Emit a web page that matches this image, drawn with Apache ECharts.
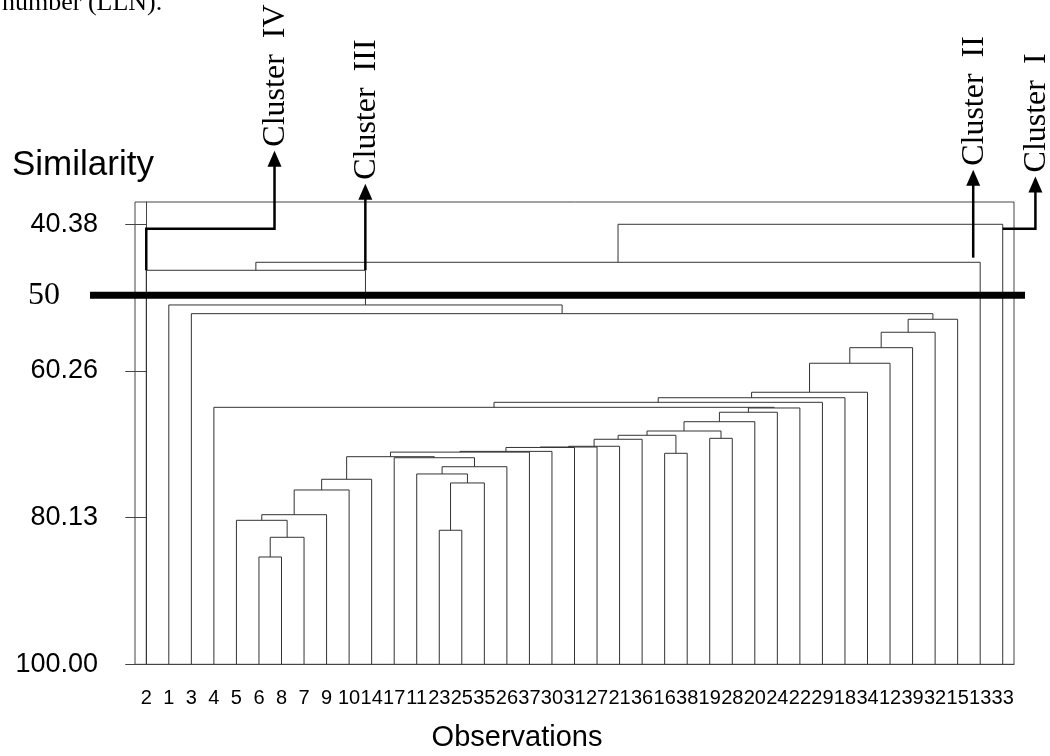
<!DOCTYPE html>
<html><head><meta charset="utf-8">
<script src="https://cdn.jsdelivr.net/npm/echarts@6/dist/echarts.min.js"></script>
<style>html,body{margin:0;padding:0;background:#fff}#c{width:1050px;height:756px}</style>
</head><body><div id="c"></div>
<script>
// Leaf (observation) order along the x axis
const leafOrder = ['2','1','3','4','5','6','8','7','9','10','14','17','11','23','25','35','26','37','30','31','27','21','36','16','38','19','28','20','24','22','29','18','34','12','39','32','15','13','33'];
// Merges: positive = observation number, negative -k = result of merge k (1-based)
const mergeLeft   = [6,-1,5,-3,-4,-5,23,-7,11,-9,17,-6,-12,-13,-14,-15,-16,-17,16,-18,19,-20,-22,-23,-24,4,-26,-27,-28,-29,-30,-31,-32,3,1,2,-36,-37];
const mergeRight  = [8,7,-2,9,10,14,25,35,-8,26,-10,-11,37,30,31,27,21,36,38,-19,28,-21,20,24,22,-25,29,18,34,12,39,32,15,-33,-34,-35,13,33];
const mergeHeight = [85.46,82.79,80.49,79.73,76.38,74.93,81.84,75.43,74.21,73.23,72.01,71.87,71.25,71.15,70.62,70.56,70.46,69.51,71.41,68.97,69.38,68.39,67.13,65.85,65.27,65.18,64.50,63.88,63.14,59.21,57.10,55.01,53.25,52.49,51.31,46.61,45.53,40.38];
// Y axis tick labels and cut level
const yTicks = [40.38, 60.26, 80.13, 100];
const cutLevel = [50];
// Cluster annotations (x in leaf-position units, y in similarity)
const clusterNames = ['Cluster  IV','Cluster  III','Cluster  II','Cluster  I'];
const arrowX = [[0,0,5.69,5.69],[9.72,9.72],[36.69,36.69],[38,39.45,39.45]];
const arrowY = [[46.61,41.0,41.0,30.4],[46.61,34.9],[44.9,33.0],[41.0,41.0,33.9]];

const leafPos = {}; leafOrder.forEach((l,i)=>{leafPos[l]=i;});
const nodeX=[], nodeY=[];
const cx = c => c>0 ? leafPos[String(c)] : nodeX[-c-1];
const cy = c => c>0 ? 100 : nodeY[-c-1];
const segs=[];
for(let k=0;k<mergeLeft.length;k++){
  const l=mergeLeft[k], r=mergeRight[k], h=mergeHeight[k];
  const xl=cx(l), xr=cx(r);
  segs.push([xl, cy(l), xr, cy(r), h]);
  nodeX.push((xl+xr)/2); nodeY.push(h);
}

const chart = echarts.init(document.getElementById('c'), null, {renderer:'canvas'});
const YMIN=37.36, YMAX=100, TOP=202, H=462.3;
const SANS='"Liberation Sans", Arial, sans-serif';
const SERIF='"Liberation Serif", "Times New Roman", serif';
chart.setOption({
  animation:false,
  backgroundColor:'#fff',
  grid:[
    {left:135, right:36, top:TOP, height:H, show:true, borderColor:'#444', borderWidth:1, backgroundColor:'transparent'},
    {left:90, right:25, top:TOP, height:H}
  ],
  xAxis:[
    {type:'category', gridIndex:0, data:leafOrder, boundaryGap:true,
     axisLine:{lineStyle:{color:'#444',width:1}},
     axisTick:{alignWithLabel:true, length:15, lineStyle:{color:'#444'}},
     axisLabel:{interval:0, color:'#000', fontSize:20, fontFamily:SANS, margin:24}},
    {type:'value', gridIndex:0, min:-0.5, max:38.5, show:false},
    {type:'value', gridIndex:1, min:0, max:1, show:false}
  ],
  yAxis:[
    {type:'value', gridIndex:0, inverse:true, min:YMIN, max:YMAX,
     splitLine:{show:false},
     axisLine:{show:true, lineStyle:{color:'#444',width:1}},
     axisTick:{show:true, length:21, customValues:yTicks, lineStyle:{color:'#444'}},
     axisLabel:{customValues:yTicks, formatter:v=>Number(v).toFixed(2), color:'#000', fontSize:27, fontFamily:SANS, margin:37}},
    {type:'value', gridIndex:1, inverse:true, min:YMIN, max:YMAX,
     splitLine:{show:false}, axisLine:{show:false}, axisTick:{show:false},
     axisLabel:{customValues:cutLevel, formatter:v=>String(Math.round(v)), color:'#000', fontSize:32, fontFamily:SERIF, margin:30}}
  ],
  series:[
    {type:'custom', xAxisIndex:1, yAxisIndex:0, z:2, data:segs, clip:false,
     renderItem:(params, api)=>{
       const a=api.coord([api.value(0),api.value(1)]);
       const b=api.coord([api.value(0),api.value(4)]);
       const c=api.coord([api.value(2),api.value(4)]);
       const d=api.coord([api.value(2),api.value(3)]);
       return {type:'polyline', shape:{points:[a,b,c,d]}, style:{stroke:'#333', fill:null, lineWidth:1}};
     }},
    {type:'line', xAxisIndex:2, yAxisIndex:1, z:3, symbol:'none', silent:true,
     data:[[0,cutLevel[0]],[1,cutLevel[0]]], lineStyle:{color:'#000', width:7}},
    {type:'custom', xAxisIndex:1, yAxisIndex:0, z:4, clip:false,
     data:clusterNames.map((n,i)=>[i]),
     renderItem:(params, api)=>{
       const i=params.dataIndex;
       const pts=arrowX[i].map((x,j)=>api.coord([x, arrowY[i][j]]));
       const tip=pts[pts.length-1];
       const line=pts.slice(0,-1).concat([[tip[0], tip[1]+15]]);
       return {type:'group', children:[
         {type:'polyline', shape:{points:line}, style:{stroke:'#000', fill:null, lineWidth:2.5}},
         {type:'polygon', shape:{points:[[tip[0],tip[1]],[tip[0]-7,tip[1]+16],[tip[0]+7,tip[1]+16]]}, style:{fill:'#000'}},
         {type:'text', x:tip[0]+1, y:tip[1]-4, rotation:Math.PI/2,
          style:{text:clusterNames[i], font:'32px '+SERIF, fill:'#000', align:'left', verticalAlign:'middle'}}
       ]};
     }}
  ],
  graphic:[
    {type:'text', left:12, top:148, style:{text:'Similarity', font:'35px '+SANS, fill:'#000'}},
    {type:'text', x:517, y:738, style:{text:'Observations', font:'29px '+SANS, fill:'#000', align:'center', verticalAlign:'middle'}},
    {type:'text', x:2, y:3, style:{text:'number (LLN).', font:'26px '+SERIF, fill:'#000', align:'left', verticalAlign:'middle'}}
  ]
});
</script></body></html>
